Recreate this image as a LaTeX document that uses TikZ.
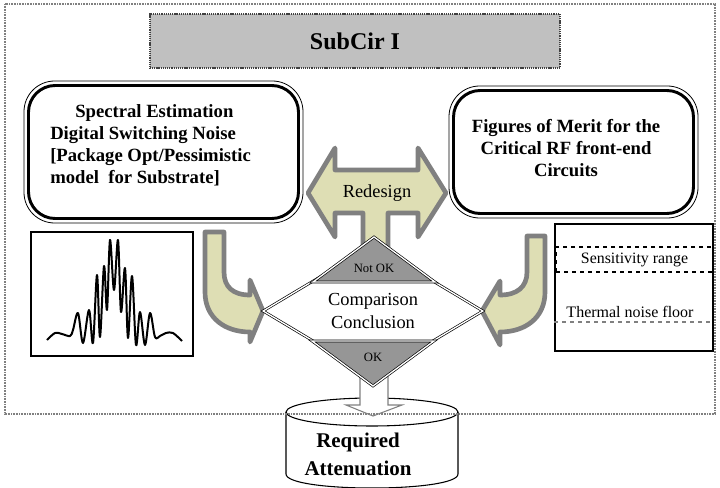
\documentclass[tikz,border=0pt]{standalone}
\usepackage{fontspec}
\setmainfont{Liberation Serif}
\usetikzlibrary{shapes.geometric}
\definecolor{khaki}{RGB}{222,222,180}
\definecolor{arrowgray}{RGB}{128,128,128}
\definecolor{titlegray}{RGB}{192,192,192}
\definecolor{trigray}{RGB}{150,150,150}
\tikzset{
  frame/.style     = {draw=gray, line width=1.2pt, dash pattern=on 0.6pt off 0.6pt},
  titlebox/.style  = {draw=darkgray, fill=titlegray, line width=1pt,
                      dash pattern=on 0.8pt off 0.6pt,
                      minimum width=307.5pt, minimum height=40.5pt,
                      font=\fontsize{18}{21}\selectfont\bfseries},
  infobox/.style   = {draw, line width=2.2pt, rounded corners=20pt,
                      inner sep=0pt, outer sep=0pt},
  outline/.style   = {draw, line width=0.6pt, rounded corners=23pt},
  infotext/.style  = {font=\fontsize{14}{16.5}\selectfont\bfseries, inner sep=0pt},
  bentarrow/.style = {draw=arrowgray, fill=khaki, line width=3.5pt, line join=round},
  decision/.style  = {diamond, draw, double=white, double distance=1pt,
                      line width=0.5pt, fill=white,
                      minimum width=165pt, minimum height=99pt, inner sep=0pt,
                      align=center, font=\fontsize{13.8}{17.25}\selectfont},
  verdict/.style   = {draw, double=white, double distance=1pt, line width=0.5pt,
                      fill=trigray},
  okarrow/.style   = {draw=arrowgray, fill=white, line width=0.8pt},
  drum/.style      = {draw, line width=0.8pt, fill=white},
  plaintext/.style = {inner sep=0pt, font=\fontsize{12}{14}\selectfont},
  wave/.style      = {line width=1.5pt, line join=round}
}

\begin{document}
\begin{tikzpicture}[x=0.75pt, y=-0.75pt]
  \useasboundingbox (0,0) rectangle (720,488);

  % title
  \node[titlebox] (title) at (355,41) {SubCir I};

  % the two input boxes
  \node[infobox, minimum width=202.5pt, minimum height=99.75pt] (lbox) at (163.5,152) {};
  \draw[outline] ([shift={(-4.5,-4.5)}]lbox.north west) rectangle ([shift={(4.5,4.5)}]lbox.south east);
  \node[infotext, anchor=west, align=left] (ltext) at (50,145)
    {\hspace{18.75pt}Spectral Estimation\\Digital Switching Noise\\{[}Package Opt/Pessimistic\\model~ for Substrate]};

  \node[infobox, minimum width=180pt, minimum height=92.25pt] (rbox) at (573.5,152) {};
  \draw[outline] ([shift={(-4.5,-4.5)}]rbox.north west) rectangle ([shift={(4.5,4.5)}]rbox.south east);
  \node[infotext, align=center] (rtext) at (566,148)
    {Figures of Merit for the\\Critical RF front-end\\Circuits};

  % spectrum
  \node[draw, line width=1.1pt, minimum width=121.5pt, minimum height=93pt] (spec) at (112,294) {};
  \draw[wave] plot[smooth, tension=0.55] coordinates {
    (47,340) (55,333) (62,334) (70,336) (73,330) (78,313) (83,343) (89,310)
    (93,343) (97,275) (100,337) (104,266) (107,310) (110,240) (114,290)
    (118,240) (121,312) (125,268) (128,338) (132,276) (136,345) (140,312)
    (145,345) (150,313) (155,337) (160,336) (166,333) (173,333) (182,341)};

  % sensitivity
  \node[draw, line width=0.8pt, minimum width=118.5pt, minimum height=95.25pt] (sens) at (634,287.5) {};
  \node[draw, dashed, line width=1.5pt, minimum width=117.75pt, minimum height=18.75pt,
        plaintext, font=\fontsize{11.9}{14}\selectfont] (band) at (634.5,259.5) {Sensitivity range};
  \draw[gray, dashed, line width=0.8pt] (sens.west |- 0,322) -- (sens.east |- 0,322);
  \node[plaintext] (floor) at (630,312) {Thermal noise floor};

  % bent arrows into the comparison
  \draw[bentarrow] (205,232) -- (205,292) .. controls (205,318) and (225,332) .. (250,332)
    -- (250,342) -- (263,311) -- (250,280) -- (250,295)
    .. controls (233,295) and (224,287) .. (224,272) -- (224,232) -- cycle;
  \draw[bentarrow] (545,236) -- (545,292) .. controls (545,318) and (525,332) .. (500,332)
    -- (500,345) -- (482,311) -- (500,281) -- (500,295)
    .. controls (517,295) and (527,287) .. (527,272) -- (527,236) -- cycle;

  % redesign arrow
  \draw[bentarrow] (308,193) -- (335,148) -- (335,170) -- (418,170) -- (418,148)
    -- (446,193) -- (418,237) -- (418,213) -- (388,213) -- (388,248)
    -- (363,248) -- (363,213) -- (335,213) -- (335,237) -- cycle;
  \node[plaintext, font=\fontsize{13.8}{16}\selectfont] (redesign) at (377,193) {Redesign};

  % result
  \draw[drum] (286,412) -- (286,474) .. controls (286,492.7) and (458,492.7) .. (458,474) -- (458,412);
  \draw[drum] (372,412) ellipse [x radius=86, y radius=14];
  \node[align=center, inner sep=0pt, font=\fontsize{15.7}{21}\selectfont\bfseries] (req) at (358,454)
    {Required\\Attenuation};
  \draw[okarrow] (360,372) -- (360,405) -- (346,405) -- (373,416) -- (402,405)
    -- (388,405) -- (388,372) -- cycle;

  % comparison
  \node[decision] (cmp) at (373,311) {Comparison\\Conclusion};
  \draw[verdict] (374,237) -- (435,282) -- (313,282) -- cycle;
  \node[plaintext, font=\fontsize{9.5}{11}\selectfont] (notok) at (374,268) {Not OK};
  \draw[verdict] (312,341) -- (434,341) -- (373,386) -- cycle;
  \node[plaintext, font=\fontsize{9.5}{11}\selectfont] (ok) at (373,357) {OK};

  \draw[frame] (5,4) rectangle (715,414);
\end{tikzpicture}
\end{document}
